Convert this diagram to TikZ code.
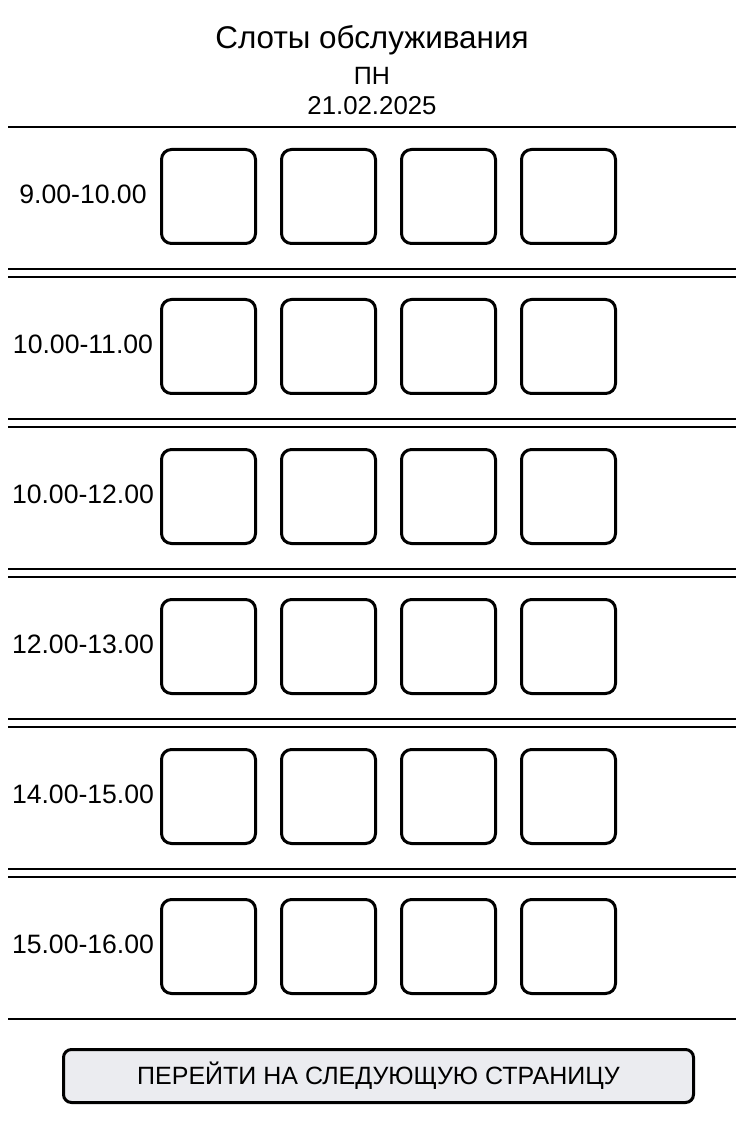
\documentclass[tikz,border=0pt]{standalone}
\usepackage{fontspec}
\setmainfont{Liberation Sans}
\usetikzlibrary{positioning}
\definecolor{btnfill}{RGB}{235,236,240}

\begin{document}
\begin{tikzpicture}[
	x=0.5pt, y=-0.5pt,
	node distance=13pt,
	slot/.style={rectangle, draw, line width=1.5pt, rounded corners=5pt,
		minimum width=47pt, minimum height=47pt, inner sep=0pt, outer sep=0pt},
	timelbl/.style={font=\fontsize{13.3}{16}\selectfont, inner sep=0pt},
	sepline/.style={draw, line width=0.75pt},
	button/.style={rectangle, draw, fill=btnfill, line width=1.5pt, rounded corners=4pt,
		minimum width=315pt, minimum height=26.5pt, font=\fontsize{12.5}{15}\selectfont},
	]
	\useasboundingbox (0,0) rectangle (744,1133);
	
	\node [font=\fontsize{15.7}{19}\selectfont] (title) at (372,40) {Слоты обслуживания};
	\node [font=\fontsize{12.5}{15}\selectfont] (day) at (372,76) {ПН};
	\node [font=\fontsize{12.9}{15}\selectfont] (date) at (372,106) {21.02.2025};
	\path [sepline] (8,127) -- (736,127);
	
	\foreach \t [count=\i] in {9.00-10.00, 10.00-11.00, 10.00-12.00, 12.00-13.00, 14.00-15.00, 15.00-16.00} {
		\pgfmathsetmacro\yc{46.5+150*\i}
		\node [timelbl] (lbl\i) at (83,\yc-2) {\t};
		\node [slot] (r\i a) at (208.5,\yc) {};
		\node [slot, right=of r\i a] (r\i b) {};
		\node [slot, right=of r\i b] (r\i c) {};
		\node [slot, right=of r\i c] (r\i d) {};
	}
	
	% double separators between rows
	\foreach \k in {0,...,4} {
		\pgfmathsetmacro\ya{269+150*\k}
		\pgfmathsetmacro\yb{277+150*\k}
		\path [sepline] (8,\ya) -- (736,\ya);
		\path [sepline] (8,\yb) -- (736,\yb);
	}
	\path [sepline] (8,1019) -- (736,1019);
	
	\node [button] (next) at (378.5,1076) {ПЕРЕЙТИ НА СЛЕДУЮЩУЮ СТРАНИЦУ};
\end{tikzpicture}
\end{document}
